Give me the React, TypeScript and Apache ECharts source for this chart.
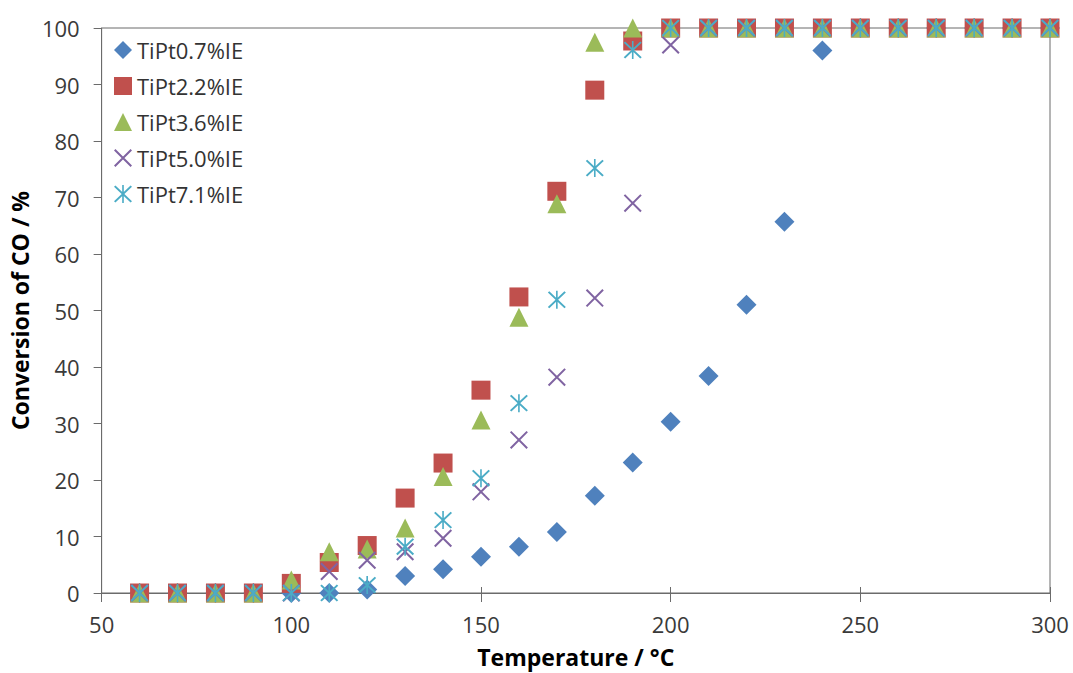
import React, { useEffect, useRef } from "react";
import * as echarts from "echarts";

const temps = [60, 70, 80, 90, 100, 110, 120, 130, 140, 150, 160, 170, 180, 190, 200, 210, 220, 230, 240, 250, 260, 270, 280, 290, 300];

const tipt07 = [0, 0, 0, 0, 0, 0, 0.6, 3.0, 4.2, 6.4, 8.2, 10.8, 17.2, 23.1, 30.3, 38.4, 51, 65.7, 96, 100, 100, 100, 100, 100, 100];
const tipt22 = [0, 0, 0, 0, 1.7, 5.4, 8.4, 16.8, 23, 35.9, 52.4, 71.1, 89, 97.7, 100, 100, 100, 100, 100, 100, 100, 100, 100, 100, 100];
const tipt36 = [0, 0, 0, 0, 2.3, 7.3, 7.8, 11.5, 20.6, 30.6, 48.8, 68.9, 97.5, 100, 100, 100, 100, 100, 100, 100, 100, 100, 100, 100, 100];
const tipt50 = [0, 0, 0, 0, 0, 3.8, 5.8, 7.3, 9.7, 17.9, 27.1, 38.2, 52.2, 69, 97, 100, 100, 100, 100, 100, 100, 100, 100, 100, 100];
const tipt71 = [0, 0, 0, 0, 0, 0, 1.4, 8.2, 12.9, 20.3, 33.6, 51.9, 75.2, 96.1, 100, 100, 100, 100, 100, 100, 100, 100, 100, 100, 100];

const seriesNames = ["TiPt0.7%IE", "TiPt2.2%IE", "TiPt3.6%IE", "TiPt5.0%IE", "TiPt7.1%IE"];
const seriesValues = [tipt07, tipt22, tipt36, tipt50, tipt71];
const seriesColors = ["#4F81BD", "#C0504D", "#9BBB59", "#8064A2", "#4BACC6"];

const X_PATH = "path://M0,1.6L1.6,0L20,18.4L18.4,20ZM18.4,0L20,1.6L1.6,20L0,18.4Z";
const STAR_PATH = "path://M0,2L1.6,0.6L20,18L18.4,19.4ZM18.4,0.6L20,2L1.6,19.4L0,18ZM9.1,0L10.9,0L10.9,20L9.1,20Z";
const seriesSymbols = ["diamond", "rect", "triangle", X_PATH, STAR_PATH];
const seriesSizes = [20, 19, 19, 18, 18];

const FONT = "'Open Sans', 'Noto Sans', sans-serif";
const AXIS_COLOR = "#6b6b6b";

export default function App() {
  const ref = useRef<HTMLDivElement>(null);

  useEffect(() => {
    if (!ref.current) return;
    const chart = echarts.init(ref.current, null, { renderer: "svg" });
    const series = seriesNames.map((name, i) => ({
      name,
      type: "scatter",
      xAxisIndex: 0,
      yAxisIndex: 0,
      clip: false,
      symbol: seriesSymbols[i],
      symbolSize: seriesSizes[i],
      itemStyle: { color: seriesColors[i], opacity: 1 },
      data: temps.map((t, j) => [t, seriesValues[i][j]]),
    }));
    chart.setOption({
      animation: false,
      backgroundColor: "#ffffff",
      grid: {
        left: 95,
        right: 23,
        top: 28,
        bottom: 80,
        show: true,
        borderColor: AXIS_COLOR,
        borderWidth: 1,
        backgroundColor: "transparent",
      },
      legend: {
        orient: "vertical",
        left: 114,
        top: 39,
        padding: 0,
        itemWidth: 18,
        itemHeight: 18,
        itemGap: 14,
        textStyle: { fontFamily: FONT, fontSize: 22, color: "#333333", lineHeight: 18, padding: [0, 0, 0, 0] },
        data: seriesNames,
      },
      xAxis: [
        {
          type: "value",
          min: 50,
          max: 300,
          interval: 50,
          position: "bottom",
          name: "Temperature / °C",
          nameLocation: "middle",
          nameGap: 52,
          nameTextStyle: { fontFamily: FONT, fontSize: 23, fontWeight: "bold", color: "#000000" },
          axisLine: { show: true, lineStyle: { color: AXIS_COLOR, width: 1 } },
          axisTick: { show: true, inside: false, length: 9, lineStyle: { color: AXIS_COLOR } },
          axisLabel: { fontFamily: FONT, fontSize: 22, color: "#3a3a3a", margin: 20 },
          splitLine: { show: false },
        },
        {
          type: "value",
          min: 50,
          max: 300,
          interval: 50,
          position: "bottom",
          axisLine: { show: false },
          axisTick: { show: true, inside: true, length: 6, lineStyle: { color: AXIS_COLOR } },
          axisLabel: { show: false },
          splitLine: { show: false },
        },
      ],
      yAxis: {
        type: "value",
        min: 0,
        max: 100,
        interval: 10,
        name: "Conversion of CO / %",
        nameLocation: "middle",
        nameGap: 58,
        nameTextStyle: { fontFamily: FONT, fontSize: 23, fontWeight: "bold", color: "#000000" },
        axisLine: { show: true, lineStyle: { color: AXIS_COLOR, width: 1 } },
        axisTick: { show: true, inside: false, length: 8, lineStyle: { color: AXIS_COLOR } },
        axisLabel: { fontFamily: FONT, fontSize: 22, color: "#3a3a3a", margin: 22 },
        splitLine: { show: false },
      },
      series,
    });
    return () => chart.dispose();
  }, []);

  return (
    <div
      ref={ref}
      style={{ position: "fixed", left: 0, top: 0, width: 1073, height: 673, background: "#fff" }}
    />
  );
}
